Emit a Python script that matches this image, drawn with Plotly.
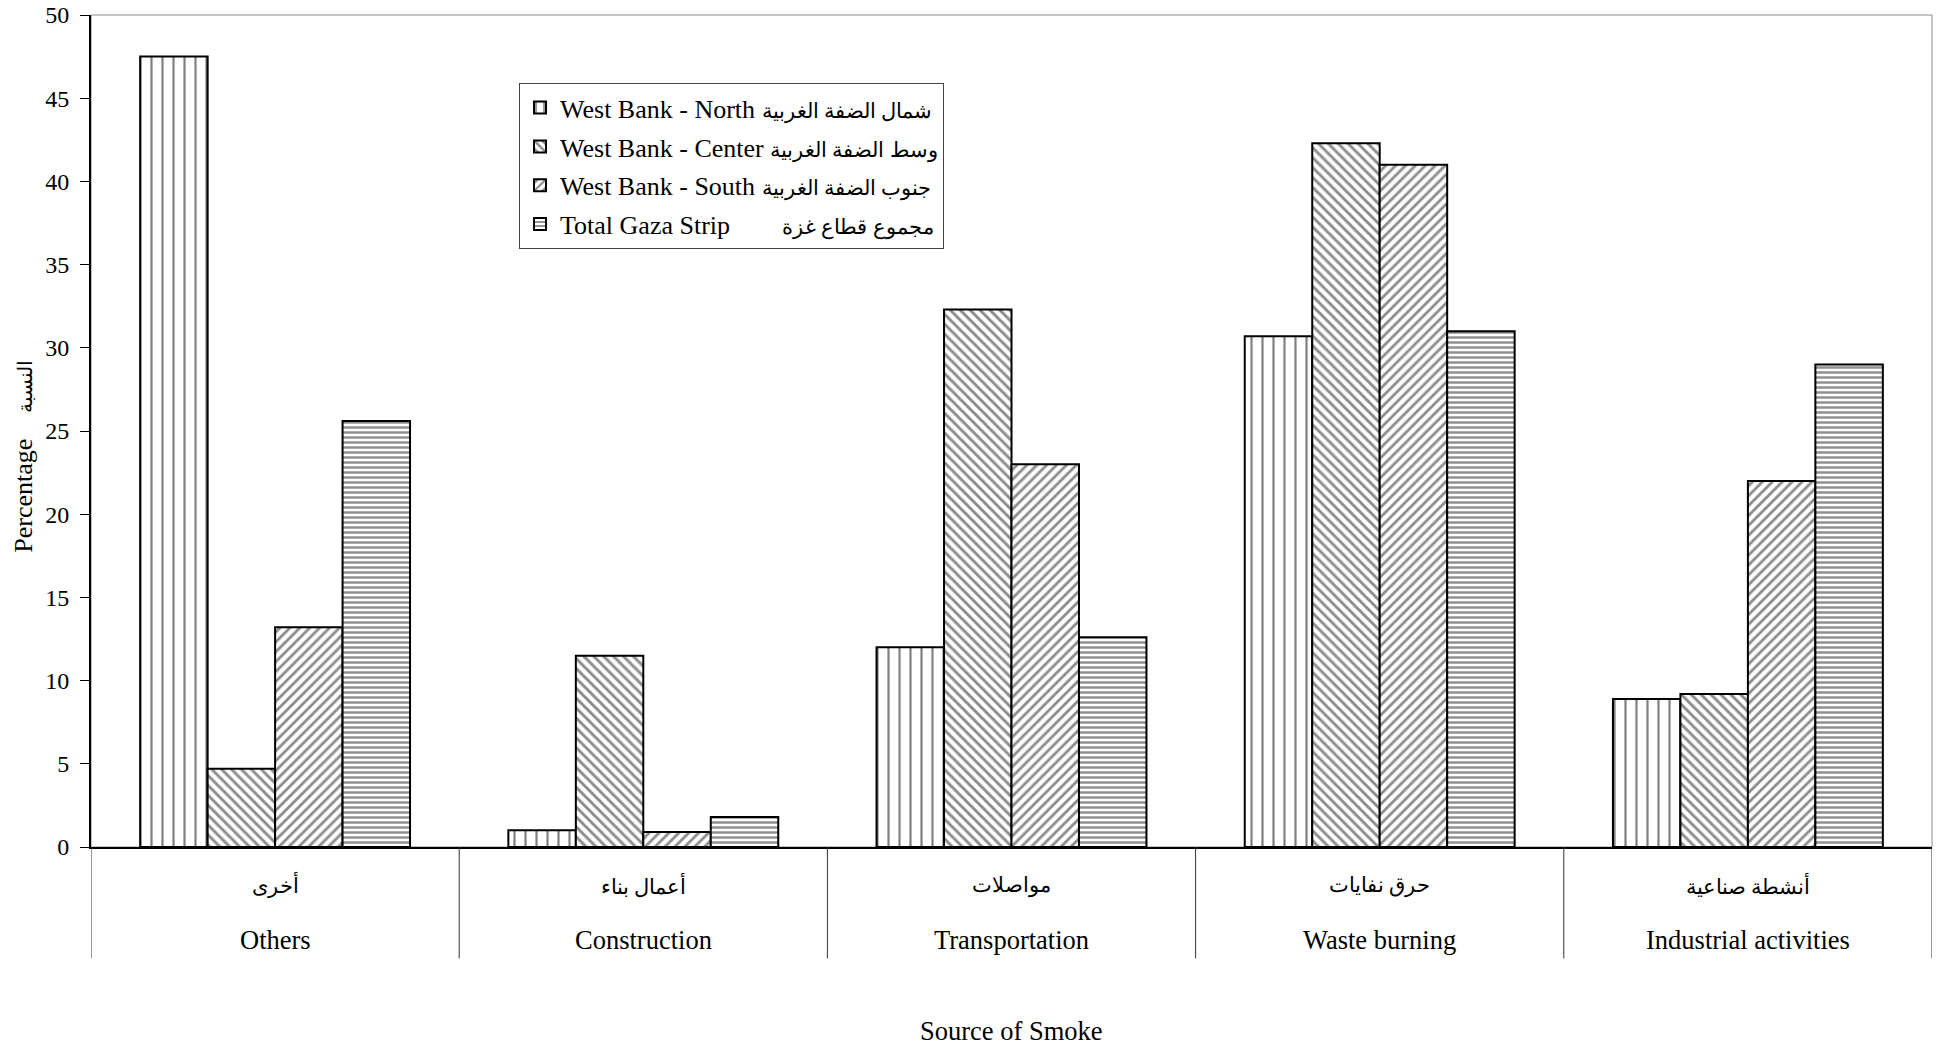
import plotly.graph_objects as go

# Source of smoke categories (English / Arabic)
categories_en = ["Others", "Construction", "Transportation", "Waste burning", "Industrial activities"]
categories_ar = ["أخرى", "أعمال بناء", "مواصلات", "حرق نفايات", "أنشطة صناعية"]

# Percentages by region
west_bank_north = [47.5, 1.0, 12.0, 30.7, 8.9]
west_bank_center = [4.7, 11.5, 32.3, 42.3, 9.2]
west_bank_south = [13.2, 0.9, 23.0, 41.0, 22.0]
total_gaza = [25.6, 1.8, 12.6, 31.0, 29.0]

# Legend labels: English part, Arabic part
series_en = ["West Bank - North", "West Bank - Center", "West Bank - South", "Total Gaza Strip"]
series_ar = ["شمال الضفة الغربية", "وسط الضفة الغربية", "جنوب الضفة الغربية", "مجموع قطاع غزة"]
series_pad = ["", "", "", "\u00a0\u00a0\u00a0\u00a0\u00a0\u00a0\u00a0"]

series_values = [west_bank_north, west_bank_center, west_bank_south, total_gaza]
patterns = [
    dict(shape="|", size=11, solidity=0.2, fgcolor="#000000", bgcolor="#ffffff"),
    dict(shape="\\", size=7, solidity=0.42, fgcolor="#1a1a1a", bgcolor="#ffffff"),
    dict(shape="/", size=7, solidity=0.4, fgcolor="#1a1a1a", bgcolor="#ffffff"),
    dict(shape="-", size=5, solidity=0.5, fgcolor="#222222", bgcolor="#ffffff"),
]

FONT = "Liberation Serif, Times New Roman, serif"
AR_SPAN = '<span style="font-size:21px">{}</span>'

fig = go.Figure()
for i, (en, ar, pad, vals, pat) in enumerate(zip(series_en, series_ar, series_pad, series_values, patterns)):
    fig.add_trace(go.Bar(
        x=categories_en,
        y=vals,
        name=f"{en} {pad}" + AR_SPAN.format(ar),
        legendgroup=f"g{i}",
        marker=dict(color="#ffffff", pattern=pat, line=dict(color="#000000", width=2)),
    ))

shapes = [
    # plot frame
    dict(type="rect", xref="paper", yref="paper", x0=0, x1=1, y0=0, y1=1,
         line=dict(color="#8a8a8a", width=1), layer="below"),
]
# category dividers under the axis
for i in range(len(categories_en) + 1):
    shapes.append(dict(type="line", xref="x", yref="paper", x0=i - 0.5, x1=i - 0.5,
                       y0=0, y1=-0.134, line=dict(color="#333333", width=1)))

annotations = []
for en, ar in zip(categories_en, categories_ar):
    annotations.append(dict(x=en, xref="x", y=-0.0457, yref="paper", text=ar,
                            showarrow=False, font=dict(family=FONT, size=21, color="#000"),
                            yanchor="middle"))
    annotations.append(dict(x=en, xref="x", y=-0.1118, yref="paper", text=en,
                            showarrow=False, font=dict(family=FONT, size=26.5, color="#000"),
                            yanchor="middle"))
annotations.append(dict(x=0.4998, xref="paper", y=-0.2212, yref="paper", text="Source of Smoke",
                        showarrow=False, font=dict(family=FONT, size=26.5, color="#000"),
                        yanchor="middle"))
annotations.append(dict(x=-0.0365, xref="paper", y=0.47, yref="paper",
                        text="Percentage \u00a0\u00a0\u00a0" + '<span style="font-size:20px">النسبة</span>',
                        textangle=-90,
                        showarrow=False, font=dict(family=FONT, size=26, color="#000"),
                        xanchor="center", yanchor="middle"))

fig.update_layout(
    width=1948, height=1045,
    margin=dict(l=91, r=16, t=15, b=198, autoexpand=False),
    paper_bgcolor="#ffffff", plot_bgcolor="#ffffff",
    barmode="group", bargap=0.267, bargroupgap=0,
    font=dict(family=FONT, size=22, color="#000"),
    showlegend=True,
    legend=dict(
        x=0.2325, y=0.918, xanchor="left", yanchor="top",
        bordercolor="#444444", borderwidth=1, bgcolor="#ffffff",
        font=dict(family=FONT, size=26, color="#000"),
        itemwidth=30, tracegroupgap=2,
    ),
    shapes=shapes,
    annotations=annotations,
)
fig.update_xaxes(
    range=[-0.5, 4.5], showticklabels=False, ticks="", automargin=False,
    showline=True, linecolor="#000000", linewidth=1.5, showgrid=False, zeroline=False,
)
fig.update_yaxes(
    range=[0, 50], dtick=5, tick0=0, ticks="outside", ticklen=9, tickcolor="#000",
    showline=True, linecolor="#000000", linewidth=2, showgrid=False, zeroline=False,
    automargin=False, ticklabelstandoff=6,
    tickfont=dict(family=FONT, size=24, color="#000"),
)

fig.write_html("out.html")
